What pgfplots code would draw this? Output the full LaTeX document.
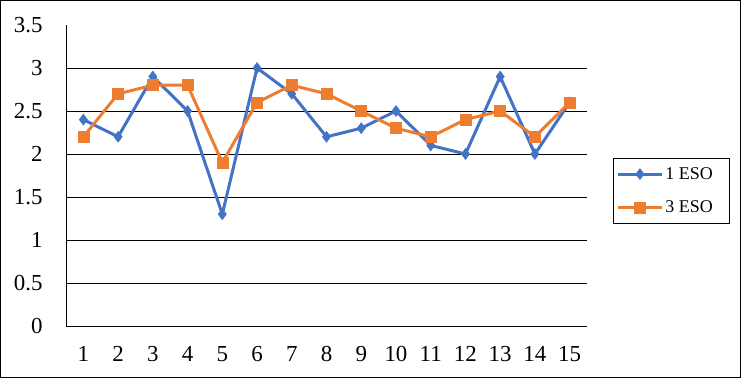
\documentclass[border=0pt]{standalone}
\usepackage{pgfplots}
\pgfplotsset{compat=1.18}
\usepackage{fontspec}
\setmainfont{Liberation Serif}
\definecolor{sblue}{HTML}{4472C4}
\definecolor{sorange}{HTML}{ED7D31}
\begin{document}
\begin{tikzpicture}[x=1bp,y=1bp]
\draw[line width=1bp] (0.5,0.5) rectangle (740.5,377.5);
\begin{axis}[
  at={(66bp,52bp)}, anchor=south west,
  scale only axis, width=521bp, height=301bp,
  xmin=0.5, xmax=15.5, ymin=0, ymax=3.5,
  xtick={1,...,15}, ytick={0,0.5,...,3.5},
  yticklabels={0,0.5,1,1.5,2,2.5,3,3.5},
  axis x line=bottom, axis y line=left,
  axis line style={-, line width=0.8bp},
  major tick length=0pt,
  extra y ticks={0.5,1,...,3}, extra y tick labels={},
  extra y tick style={grid=major, major grid style={black, line width=0.8bp}},
  /pgf/number format/assume math mode=true,
  ticklabel style={font=\fontsize{23}{26}\selectfont},
  yticklabel style={xshift=-20bp},
  xticklabel style={yshift=-17bp},
  legend style={at={(axis description cs:1.05,0.558)}, anchor=north west,
    draw=black, line width=0.8bp, font=\fontsize{18}{21}\selectfont,
    inner xsep=3bp, inner ysep=7bp, row sep=16bp, cells={anchor=west}},
  legend image code/.code={\draw[mark repeat=2, mark phase=2, line width=3bp] plot coordinates {(0bp,0bp) (22bp,0bp) (44bp,0bp)};},
  clip=false,
]
\addplot[sblue, line width=3bp, mark=diamond*, mark size=5.5bp, mark options={line width=0.5bp}] coordinates {
(1,2.4) (2,2.2) (3,2.9) (4,2.5) (5,1.3) (6,3.0) (7,2.7) (8,2.2) (9,2.3) (10,2.5) (11,2.1) (12,2.0) (13,2.9) (14,2.0) (15,2.6)};
\addlegendentry{1 ESO\rule{12bp}{0pt}}
\addplot[sorange, line width=3bp, mark=square*, mark size=5.5bp, mark options={line width=0.5bp}] coordinates {
(1,2.2) (2,2.7) (3,2.8) (4,2.8) (5,1.9) (6,2.6) (7,2.8) (8,2.7) (9,2.5) (10,2.3) (11,2.2) (12,2.4) (13,2.5) (14,2.2) (15,2.6)};
\addlegendentry{3 ESO\rule{12bp}{0pt}}
\end{axis}
\end{tikzpicture}
\end{document}
